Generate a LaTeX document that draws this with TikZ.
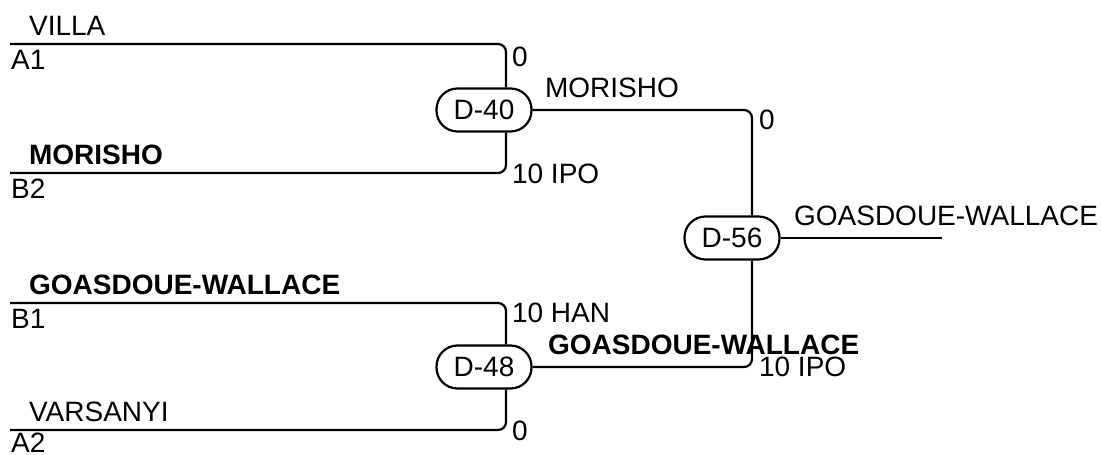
\documentclass[tikz,border=0pt]{standalone}
\usepackage{fontspec}
\setmainfont{Liberation Sans}
\usetikzlibrary{positioning}

\begin{document}
\begin{tikzpicture}[x=1pt,y=-1pt,line width=2.2pt,
  match/.style={draw,rounded corners=21pt,minimum width=95pt,minimum height=43pt,
    inner sep=0pt,font=\fontsize{28}{28}\selectfont},
  txt/.style={inner sep=0pt,anchor=base west,font=\fontsize{28}{28}\selectfont},
  win/.style={txt,font=\fontsize{28}{28}\selectfont\bfseries},
  wire/.style={rounded corners=8pt}]
\useasboundingbox (0,0) rectangle (1101,455);
% matches
\node[match] (d40) at (484,110) {D-40};
\node[match] (d48) at (484,367) {D-48};
\node[match] (d56) at (732,238) {D-56};
% entries
\coordinate (a1) at (10,44);
\coordinate (b2) at (10,173);
\coordinate (b1) at (10,303);
\coordinate (a2) at (10,430);
\coordinate (w56) at (942,238);
\draw[wire] (a1) -| ([xshift=22pt]d40.north);
\draw[wire] (b2) -| ([xshift=22pt]d40.south);
\draw[wire] (b1) -| ([xshift=22pt]d48.north);
\draw[wire] (a2) -| ([xshift=22pt]d48.south);
\draw[wire] (d40.east) -| ([xshift=20pt]d56.north);
\draw[wire] (d48.east) -| ([xshift=20pt]d56.south);
\draw (d56.east) -- (w56);
% names and seeds
\node[txt] (nvilla) at (28,35) {VILLA};
\node[txt] (sa1) at (10,69) {A1};
\node[win] (nmor) at (28,164) {MORISHO};
\node[txt] (sb2) at (10,198) {B2};
\node[win] (ngoa) at (28,294) {GOASDOUE-WALLACE};
\node[txt] (sb1) at (10,328) {B1};
\node[txt] (nvar) at (28,421) {VARSANYI};
\node[txt] (sa2) at (10,452) {A2};
% scores
\node[txt] (s40a) at (511,66) {0};
\node[txt] (s40b) at (511,183) {10 IPO};
\node[txt] (s48a) at (511,322) {10 HAN};
\node[txt] (s48b) at (511,440) {0};
\node[txt] (s56a) at (758,129) {0};
\node[txt] (s56b) at (758,376) {10 IPO};
% winners
\node[txt] (w40) at (544,97) {MORISHO};
\node[win] (w48) at (547,354) {GOASDOUE-WALLACE};
\node[txt] (wfin) at (793,225) {GOASDOUE-WALLACE};
\end{tikzpicture}
\end{document}
